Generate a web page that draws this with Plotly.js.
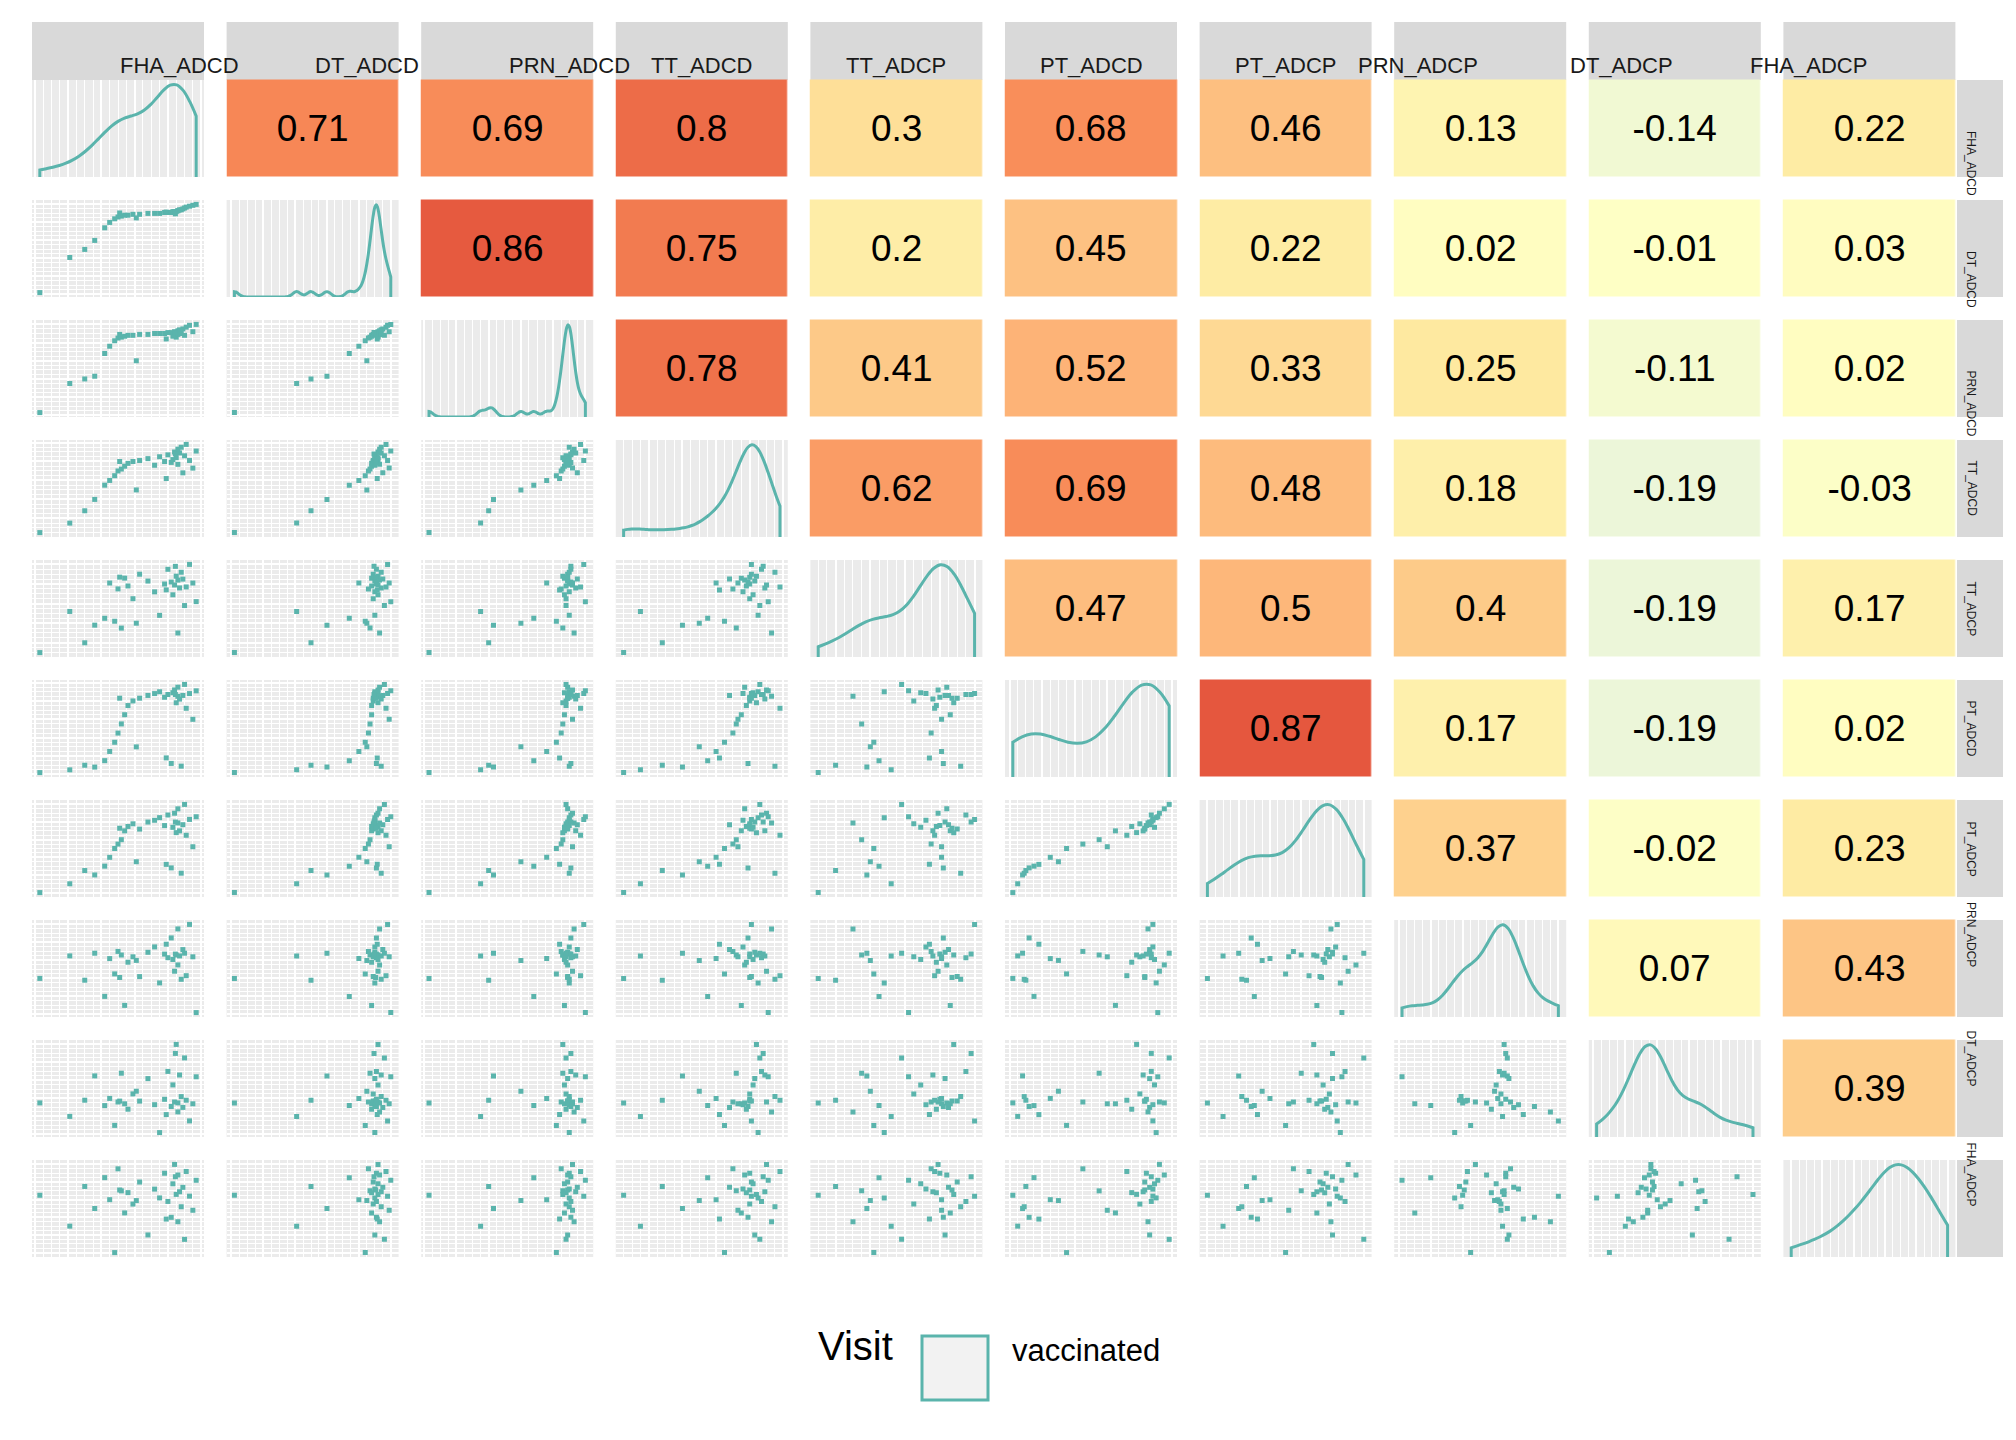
<!DOCTYPE html>
<html>
<head>
<meta charset="utf-8">
<script src="https://cdn.plot.ly/plotly-3.0.1.min.js"></script>
<style>body{margin:0;background:#fff}</style>
</head>
<body>
<div id="chart" style="width:2016px;height:1440px"></div>
<script>
// ------------------------------------------------------------
// data
// ------------------------------------------------------------
const varNames = ['FHA_ADCD', 'DT_ADCD', 'PRN_ADCD', 'TT_ADCD', 'TT_ADCP', 'PT_ADCD', 'PT_ADCP', 'PRN_ADCP', 'DT_ADCP', 'FHA_ADCP']

const FHA_ADCD = [0.3,2.1,3.0,3.6,4.2,4.5,4.8,5.0,5.2,5.4,5.6,5.9,6.3,6.8,7.2,7.5,7.8,8.0,8.2,8.3,8.4,8.5,8.6,8.6,8.7,8.8,8.9,9.0,9.1,9.3,9.5,9.7,6.1,5.1,7.9,8.45]
const DT_ADCD = [0.2,4.1,5.0,6.0,7.4,8.0,8.4,8.6,8.7,8.8,8.8,8.9,8.9,9.0,9.0,9.0,9.1,9.1,9.1,9.2,9.2,9.2,9.3,9.3,9.4,9.4,9.5,9.6,9.7,9.8,9.9,10,8.5,9.05,9.15,8.95]
const PRN_ADCD = [0.3,3.5,4.0,4.3,6.8,7.6,8.2,8.5,8.6,8.7,8.8,8.8,8.9,8.9,9.0,9.0,9.0,9.1,9.1,8.7,9.2,8.6,9.3,8.9,9.4,9.0,9.5,8.8,9.7,9.9,9.2,10,6.0,8.9,8.4,9.1]
const TT_ADCD = [0.5,1.5,2.8,4.0,5.5,6.0,6.5,7.0,7.2,7.5,7.8,8.0,8.1,8.3,7.6,8.5,8.0,8.7,7.9,8.2,9.0,8.4,9.3,7.7,8.9,9.5,6.8,8.6,9.8,8.1,7.3,9.1,5.0,8.0,6.2,8.8]
const TT_ADCP = [1.0,5.2,2.0,3.8,4.5,8.1,4.2,7.5,3.5,8.6,7.8,6.5,9.0,8.3,7.2,4.8,8.0,9.5,8.2,6.9,7.9,8.8,3.0,8.4,7.6,9.2,8.5,5.8,7.7,10,8.1,6.2,4.0,8.7,7.4,9.8]
const PT_ADCD = [0.2,0.5,1.0,0.8,1.5,2.5,3.5,4.5,5.5,6.5,7.5,8.0,8.3,8.6,8.8,9.0,8.4,8.7,1.2,8.9,9.2,7.8,8.5,9.5,8.2,0.9,8.6,9.8,7.2,8.8,6.0,9.1,3.0,8.3,1.8,8.7]
const PT_ADCP = [0.0,1.0,2.5,2.0,3.0,4.0,5.0,5.5,6.0,7.0,7.5,7.8,7.2,8.0,8.2,8.5,7.6,8.8,2.8,7.4,9.0,6.8,7.9,9.5,7.0,2.2,7.7,10,6.5,8.3,5.2,8.6,3.5,7.3,3.2,8.0]
const PRN_ADCP = [4.0,6.5,3.8,6.8,2.0,6.2,4.5,7.0,6.6,1.0,5.8,6.4,4.2,6.9,7.5,3.5,6.7,6.3,8.5,6.1,4.8,6.6,9.5,5.5,6.5,3.9,7.2,6.8,4.3,10,6.4,0.2,6.0,4.1,7.8,6.7]
const DT_ADCP = [3.5,2.0,3.8,6.5,3.2,4.0,1.0,3.6,6.8,3.4,2.8,4.5,3.7,6.2,3.3,0.2,3.9,7.0,3.1,5.5,3.6,10,2.5,3.5,6.6,4.2,3.0,8.5,3.8,1.5,3.4,6.4,4.8,3.7,2.2,9.0]
const FHA_ADCP = [6.5,3.0,7.5,5.0,8.5,6.0,0.0,9.5,7.0,4.5,6.8,5.5,8.0,2.0,7.2,6.2,9.0,5.8,4.0,7.8,10,6.6,3.5,8.8,6.9,5.2,7.4,1.5,9.2,6.4,4.8,8.2,5.9,7.1,3.8,8.6]

const varData = [FHA_ADCD, DT_ADCD, PRN_ADCD, TT_ADCD, TT_ADCP, PT_ADCD, PT_ADCP, PRN_ADCP, DT_ADCP, FHA_ADCP]

// 上三角の相関係数（行ごと）
const corrRows = [
    ['0.71','0.69','0.8','0.3','0.68','0.46','0.13','-0.14','0.22'],
    ['0.86','0.75','0.2','0.45','0.22','0.02','-0.01','0.03'],
    ['0.78','0.41','0.52','0.33','0.25','-0.11','0.02'],
    ['0.62','0.69','0.48','0.18','-0.19','-0.03'],
    ['0.47','0.5','0.4','-0.19','0.17'],
    ['0.87','0.17','-0.19','0.02'],
    ['0.37','-0.02','0.23'],
    ['0.07','0.43'],
    ['0.39']
]

// ------------------------------------------------------------
// layout
// ------------------------------------------------------------
const W = 2016, H = 1440
const N = varNames.length
const teal = '#5AB4AC'
const colX0 = j => 32 + j * 194.6
const colX1 = j => 32 + j * 194.6 + 172
const rowY0 = i => 80 + i * 120
const rowY1 = i => 80 + i * 120 + 97

const traces = []
const shapes = []
const annotations = []
const layout = {
    width: W, height: H,
    margin: {l: 0, r: 0, t: 0, b: 0},
    paper_bgcolor: '#fff',
    plot_bgcolor: 'rgba(0,0,0,0)',
    showlegend: false,
    font: {family: 'Liberation Sans, Arial, sans-serif', color: '#1a1a1a'}
}

function rangeOf(arr) {
    const mn = Math.min(...arr), mx = Math.max(...arr)
    const pad = (mx - mn) * 0.05
    return [mn - pad, mx + pad]
}

function gridAxis(domain, range, anchor) {
    return {
        domain: domain, range: range, anchor: anchor,
        showticklabels: false, ticks: '', zeroline: false, showline: false,
        showgrid: true, gridcolor: '#fff', gridwidth: 2, nticks: 6,
        minor: {showgrid: true, gridcolor: '#fff', gridwidth: 1}
    }
}

let k = 1
for (let i = 0; i < N; i++) {
    for (let j = 0; j <= i; j++) {
        const xa = 'x' + k, ya = 'y' + k
        const xd = [colX0(j) / W, colX1(j) / W]
        const yd = [1 - rowY1(i) / H, 1 - rowY0(i) / H]
        if (i === j) {
            layout['xaxis' + k] = gridAxis(xd, rangeOf(varData[j]), ya)
            layout['yaxis' + k] = gridAxis(yd, [0, 1], xa)
            traces.push({
                type: 'violin', orientation: 'h', side: 'positive',
                x: varData[j], y0: 0, width: 1.9, spanmode: 'hard',
                points: false, fillcolor: 'rgba(0,0,0,0)',
                line: {color: teal, width: 3},
                xaxis: xa, yaxis: ya, hoverinfo: 'skip'
            })
        } else {
            layout['xaxis' + k] = gridAxis(xd, rangeOf(varData[j]), ya)
            layout['yaxis' + k] = gridAxis(yd, rangeOf(varData[i]), xa)
            traces.push({
                type: 'scatter', mode: 'markers',
                x: varData[j], y: varData[i],
                marker: {color: teal, size: 5, symbol: 'square'},
                xaxis: xa, yaxis: ya, hoverinfo: 'skip'
            })
        }
        shapes.push({
            type: 'rect', layer: 'below', xref: xa + ' domain', yref: ya + ' domain',
            x0: 0, x1: 1, y0: 0, y1: 1, fillcolor: '#EBEBEB', line: {width: 0}
        })
        k++
    }
}

// 相関係数のヒートマップ（上三角）
const zMat = [], tMat = []
for (let i = 0; i < N; i++) {
    zMat.push([]); tMat.push([])
    for (let j = 0; j < N; j++) {
        if (j > i) {
            const s = corrRows[i][j - i - 1]
            zMat[i].push(parseFloat(s)); tMat[i].push(s)
        } else {
            zMat[i].push(null); tMat[i].push('')
        }
    }
}
const hx = 'x' + k, hy = 'y' + k
layout['xaxis' + k] = {domain: [(colX0(0) - 11.3) / W, (colX1(9) + 11.3) / W], range: [-0.5, 9.5],
    visible: false, anchor: hy}
layout['yaxis' + k] = {domain: [1 - (rowY1(9) + 11.5) / H, 1 - (rowY0(0) - 11.5) / H], range: [9.5, -0.5],
    visible: false, anchor: hx}
traces.push({
    type: 'heatmap', z: zMat, text: tMat, texttemplate: '%{text}',
    textfont: {size: 37, color: '#000'},
    xgap: 22.6, ygap: 23, zmin: -1, zmax: 1, showscale: false, hoverinfo: 'skip',
    colorscale: [[0, '#2B83BA'], [0.4, '#EBF6DA'], [0.5, '#FFFFC4'], [0.625, '#FEE9A0'],
        [0.75, '#FDB77A'], [0.85, '#F88A57'], [0.935, '#E5573E'], [1, '#D7301F']],
    xaxis: hx, yaxis: hy
})

// strip（上・右）
for (let j = 0; j < N; j++) {
    shapes.push({type: 'rect', xref: 'paper', yref: 'paper', layer: 'below',
        x0: colX0(j) / W, x1: colX1(j) / W, y0: 1 - 80 / H, y1: 1 - 22 / H,
        fillcolor: '#D9D9D9', line: {width: 0}})
    annotations.push({xref: 'paper', yref: 'paper', x: (colX0(j) + 86) / W, y: 1 - 51 / H,
        text: varNames[j], showarrow: false, font: {size: 22, color: '#1a1a1a'}})
}
for (let i = 0; i < N; i++) {
    shapes.push({type: 'rect', xref: 'paper', yref: 'paper', layer: 'below',
        x0: 1957 / W, x1: 2003 / W, y0: 1 - rowY1(i) / H, y1: 1 - rowY0(i) / H,
        fillcolor: '#D9D9D9', line: {width: 0}})
    annotations.push({xref: 'paper', yref: 'paper', x: 1980 / W, y: 1 - (rowY0(i) + 48.5) / H,
        text: varNames[i], showarrow: false, textangle: 90, font: {size: 12, color: '#1a1a1a'}})
}

// legend
annotations.push({xref: 'paper', yref: 'paper', x: 855 / W, y: 1 - 1370 / H, text: 'Visit',
    showarrow: false, font: {size: 40, color: '#000'}})
shapes.push({type: 'rect', xref: 'paper', yref: 'paper', x0: 922 / W, x1: 988 / W,
    y0: 1 - 1400 / H, y1: 1 - 1336 / H, fillcolor: '#F2F2F2', line: {color: teal, width: 3}})
annotations.push({xref: 'paper', yref: 'paper', x: 1010 / W, y: 1 - 1370 / H, xanchor: 'left',
    text: 'vaccinated', showarrow: false, font: {size: 31, color: '#000'}})

layout.shapes = shapes
layout.annotations = annotations

Plotly.newPlot('chart', traces, layout, {staticPlot: true})
</script>
</body>
</html>
